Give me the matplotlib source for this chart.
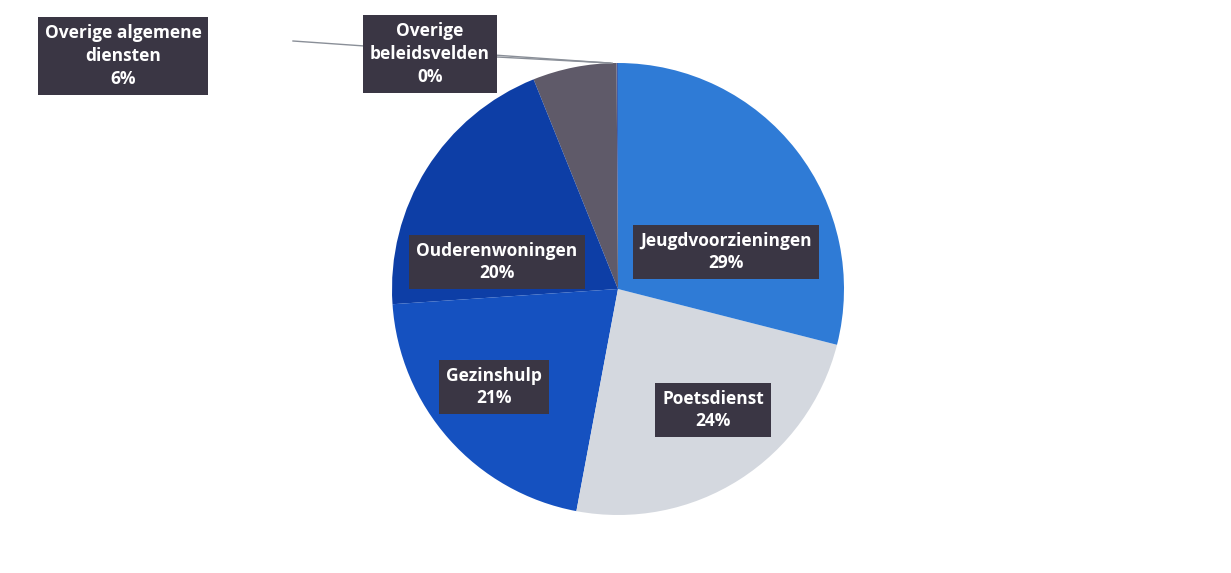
import matplotlib.pyplot as plt
import numpy as np

# slices, counter-clockwise from 12 o'clock
labels = ["Overige\nbeleidsvelden", "Overige algemene\ndiensten", "Ouderenwoningen",
          "Gezinshulp", "Poetsdienst", "Jeugdvoorzieningen"]
shares = [0.1, 6, 20, 21, 24, 29]
pct_text = ["0%", "6%", "20%", "21%", "24%", "29%"]
colors = ["#3f5fb0", "#5f5a69", "#0d3ea6", "#1551c0", "#d4d8df", "#2f7bd6"]

# label box centres (pixel coords, y measured from top)
label_x = [430, 123, 497, 494, 713, 726]
label_y = [54, 56, 262, 387, 410, 252]

W, H = 1231, 573
fig = plt.figure(figsize=(W / 100, H / 100), dpi=100)
ax = fig.add_axes([0, 0, 1, 1])

cx, cy, r = 618, H - 289, 226
wedges, _ = ax.pie(shares, colors=colors, startangle=90, counterclock=True,
                   center=(cx, cy), radius=r, frame=True,
                   wedgeprops=dict(linewidth=0))
ax.set_xlim(0, W)
ax.set_ylim(0, H)
ax.set_aspect("equal")
ax.axis("off")

# leader lines for the two small slices at the top
for i, (sx, sy) in zip([1, 0], [(293, 41), (497, 57)]):
    th = np.deg2rad(wedges[0].theta1 + 1.5 + i * 0.5)
    ex, ey = cx + r * np.cos(th), cy + r * np.sin(th)
    ax.plot([sx, ex], [H - sy, ey], color="#8a8f98", lw=1.0, zorder=1)

for lab, pct, x, y in zip(labels, pct_text, label_x, label_y):
    ax.text(x, H - y, lab + "\n" + pct, ha="center", va="center",
            color="white", fontsize=12.5, fontweight="bold", family="Open Sans",
            linespacing=1.35, zorder=5,
            bbox=dict(boxstyle="square,pad=0.4", fc="#3a3644", ec="none"))

fig.savefig("out.png", dpi=100, facecolor="white")
